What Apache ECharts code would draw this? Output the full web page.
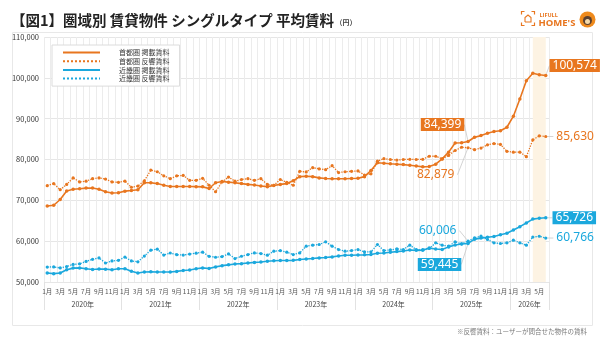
<!DOCTYPE html>
<html>
<head>
<meta charset="utf-8">
<script src="https://cdn.jsdelivr.net/npm/echarts@6/dist/echarts.min.js"></script>
<style>
  html, body { margin: 0; padding: 0; background: #fff; }
  #chart { width: 600px; height: 338px; }
</style>
</head>
<body>
<div id="chart"></div>
<script>
  // 年・月
  const years = [2020, 2021, 2022, 2023, 2024, 2025, 2026];
  const lastYearMonths = 6;

  const seriesNames = ['首都圏 掲載賃料', '首都圏 反響賃料', '近畿圏 掲載賃料', '近畿圏 反響賃料'];

  // 首都圏 掲載賃料
  const tokyoListing = [
    68600, 68800, 70200, 72300, 72700, 72850, 73000, 73000, 72700, 72100, 71800, 71850,
    72250, 72400, 72600, 74300, 74300, 74100, 73700, 73400, 73400, 73400, 73400, 73350,
    73300, 72900, 74300, 74600, 74450, 74300, 74100, 73900, 73750, 73500, 73350, 73650,
    73900, 74100, 74800, 75800, 75900, 75800, 75500, 75350, 75300, 75300, 75300, 75350,
    75400, 75800, 77300, 79200, 79100, 78950, 78850, 78750, 78600, 78400, 78200, 78300,
    78850, 80150, 81800, 84050, 84100, 84399, 85450, 85850, 86450, 86850, 87050, 87900,
    90600, 94800, 99300, 101100, 100750, 100574
  ];
  // 首都圏 反響賃料
  const tokyoInquiry = [
    73600, 74100, 72600, 73900, 75500, 74500, 74700, 75300, 75500, 75200, 74500, 74400,
    74700, 73200, 73500, 74800, 77400, 77000, 76000, 75300, 76000, 76100, 74900, 74900,
    75400, 73700, 72100, 74500, 75700, 74700, 75100, 75300, 74900, 75300, 73900, 73700,
    75100, 74400, 73700, 77100, 76950, 78000, 77700, 77500, 78500, 76800, 77000, 77100,
    77200, 76200, 76500, 79600, 80200, 80000, 79850, 80000, 80050, 80000, 80050, 80800,
    80800, 80150, 81000, 82200, 83000, 82879, 82400, 82800, 83600, 83900, 83700, 82000,
    81800, 81800, 80700, 84800, 85800, 85630
  ];
  // 近畿圏 掲載賃料
  const kinkiListing = [
    52200, 52050, 52200, 53000, 53400, 53450, 53250, 53050, 53200, 53150, 53000, 53250,
    53250, 52650, 52200, 52450, 52500, 52450, 52450, 52450, 52600, 52800, 52950, 53250,
    53450, 53300, 53700, 54000, 54200, 54400, 54500, 54650, 54800, 54900, 55100, 55200,
    55250, 55250, 55300, 55500, 55650, 55750, 55900, 56000, 56150, 56350, 56550, 56550,
    56600, 56650, 56750, 57050, 57100, 57300, 57450, 57600, 57850, 57750, 57800, 58300,
    58100, 57950, 58600, 59050, 59300, 59445, 60500, 60750, 60950, 61150, 61550, 61950,
    62750, 63550, 64450, 65400, 65600, 65726
  ];
  // 近畿圏 反響賃料
  const kinkiInquiry = [
    53650, 53700, 53450, 53800, 54300, 54450, 55050, 55550, 55900, 54650, 55150, 55300,
    56100, 55150, 54950, 56350, 57800, 58050, 56600, 57100, 56700, 56600, 56850, 57050,
    57300, 56300, 56060, 56230, 56880, 55740, 56310, 56720, 57130, 56970, 56560, 57540,
    57700, 57300, 56720, 57130, 58770, 59020, 59180, 59840, 58770, 57950, 57540, 57700,
    57950, 57380, 57380, 59180, 57700, 57870, 58110, 57950, 59020, 57950, 57950, 58200,
    59590, 59020, 58770, 59840, 59340, 60006, 60820, 61230, 60410, 59590, 59430, 59590,
    60250, 59590, 59020, 61000, 61200, 60766
  ];

  // ラベルを付ける月 (2025年6月, 2026年6月)
  const labelIndexes = [65, 77];
  // 網掛け (2026年4月〜6月)
  const bandRange = [75, 77];

  const ORANGE = '#E8761F';
  const BLUE = '#1BA8DD';
  const FONT = '"Noto Sans CJK JP", "Noto Sans", sans-serif';

  const categories = [];
  const catMonth = [];
  years.forEach((y) => {
    const n = y === years[years.length - 1] ? lastYearMonths : 12;
    for (let m = 1; m <= n; m++) {
      categories.push(y + '-' + m);
      catMonth.push(m);
    }
  });

  // ラベル設定 [series][index] -> position, dx, dy, box?
  const labelCfg = {
    0: { 65: ['left', 3, -17, true], 77: ['right', -3, -10, true] },
    1: { 65: ['left', -4, 27, false], 77: ['right', 1, 0, false] },
    2: { 65: ['left', 0, 21, true], 77: ['right', 0, 0, true] },
    3: { 65: ['left', -2, -10.5, false], 77: ['right', 1, 0, false] }
  };

  function buildData(values, si, color) {
    return values.map((v, i) => {
      const c = labelCfg[si][i];
      if (!c || labelIndexes.indexOf(i) < 0) return v;
      return {
        value: v,
        label: {
          show: true,
          position: c[0],
          formatter: (p) => p.value.toLocaleString('en-US'),
          fontFamily: '"Noto Sans", sans-serif',
          fontSize: 12,
          color: c[3] ? '#fff' : color,
          backgroundColor: c[3] ? color : 'transparent',
          padding: [1, 3, 0, 3]
        },
        labelLine: { show: true, lineStyle: { color: '#c8c8c8', width: 0.8 } }
      };
    });
  }

  function layoutFor(si) {
    return (params) => {
      const c = labelCfg[si][params.dataIndex];
      if (!c) return {};
      return { dx: c[1], dy: c[2] };
    };
  }

  function lineSeries(name, values, si, color, dotted) {
    return {
      name,
      type: 'line',
      data: buildData(values, si, color),
      symbol: 'circle',
      symbolSize: dotted ? 3.2 : 3.5,
      lineStyle: { color, width: dotted ? 1.3 : 1.6, type: dotted ? 'dotted' : 'solid' },
      itemStyle: { color },
      labelLayout: layoutFor(si),
      emphasis: { disabled: true }
    };
  }

  const series = [
    lineSeries(seriesNames[0], tokyoListing, 0, ORANGE, false),
    lineSeries(seriesNames[1], tokyoInquiry, 1, ORANGE, true),
    lineSeries(seriesNames[2], kinkiListing, 2, BLUE, false),
    lineSeries(seriesNames[3], kinkiInquiry, 3, BLUE, true)
  ];
  series[0].markArea = {
    silent: true,
    itemStyle: { color: '#FDF3E3', opacity: 1 },
    data: [[{ xAxis: categories[bandRange[0]] }, { xAxis: categories[bandRange[1]] }]]
  };

  const myChart = echarts.init(document.getElementById('chart'), null, { renderer: 'canvas' });

  myChart.setOption({
    animation: false,
    textStyle: { fontFamily: FONT },
    title: {
      text: '{a|【図1】圏域別 賃貸物件 シングルタイプ 平均賃料}{b| （円）}',
      left: 6,
      top: 8,
      textStyle: {
        rich: {
          a: { fontSize: 14.5, fontWeight: 'bold', color: '#222', fontFamily: FONT },
          b: { fontSize: 7, color: '#444', fontFamily: FONT, padding: [5, 0, 0, 0] }
        }
      }
    },
    legend: {
      orient: 'vertical',
      left: 52,
      top: 45,
      padding: [4, 10, 4, 10],
      itemWidth: 37,
      itemHeight: 8,
      itemGap: 1.7,
      backgroundColor: '#fff',
      borderColor: '#dcdcdc',
      borderWidth: 1,
      itemStyle: { opacity: 0 },
      textStyle: { fontSize: 7, color: '#333', padding: [0, 0, 0, 14] },
      data: seriesNames
    },
    grid: { left: 44, right: 51, top: 37, bottom: 56 },
    xAxis: [
      {
        type: 'category',
        data: categories,
        boundaryGap: true,
        axisLine: { show: false },
        axisTick: { show: false },
        axisLabel: {
          interval: 1,
          fontSize: 6.5,
          color: '#555',
          margin: 6,
          formatter: (v, i) => catMonth[i] + '月'
        },
        splitLine: { show: true, interval: 0, lineStyle: { color: '#ececec', width: 1 } }
      },
      {
        type: 'category',
        data: categories,
        position: 'bottom',
        offset: 0,
        boundaryGap: true,
        axisLine: { show: false },
        axisTick: {
          show: true,
          length: 28,
          interval: (i) => catMonth[i] === 1,
          lineStyle: { color: '#e2e2e2' }
        },
        axisLabel: {
          interval: (i) => {
            const y = categories[i].split('-')[0];
            return (+y === years[years.length - 1] ? catMonth[i] === 4 : catMonth[i] === 7);
          },
          formatter: (v) => v.split('-')[0] + '年',
          fontSize: 7,
          color: '#444',
          margin: 19,
          padding: [0, 6.5, 0, 0]
        },
        splitLine: { show: false }
      }
    ],
    yAxis: {
      type: 'value',
      min: 50000,
      max: 110000,
      interval: 10000,
      axisLine: { show: false },
      axisTick: { show: false },
      axisLabel: {
        fontSize: 7.5,
        color: '#333',
        margin: 5,
        formatter: (v) => v.toLocaleString('en-US')
      },
      splitLine: { lineStyle: { color: '#e6e6e6' } }
    },
    graphic: [
      {
        type: 'rect',
        left: 10,
        top: 30,
        z: -10,
        shape: { width: 580, height: 293 },
        style: { fill: 'none', stroke: '#e8e8e8', lineWidth: 1 }
      },
      // ロゴ
      {
        type: 'group',
        left: 519,
        top: 9,
        children: [
          { type: 'polyline', shape: { points: [[0, 3], [0, 0], [3, 0]] }, style: { stroke: ORANGE, lineWidth: 1.2, fill: 'none' } },
          { type: 'polyline', shape: { points: [[10, 0], [13, 0], [13, 3]] }, style: { stroke: ORANGE, lineWidth: 1.2, fill: 'none' } },
          { type: 'polyline', shape: { points: [[0, 11], [0, 14], [3, 14]] }, style: { stroke: ORANGE, lineWidth: 1.2, fill: 'none' } },
          { type: 'polyline', shape: { points: [[10, 14], [13, 14], [13, 11]] }, style: { stroke: ORANGE, lineWidth: 1.2, fill: 'none' } },
          { type: 'polyline', shape: { points: [[3.5, 10.5], [3.5, 6], [6.5, 3.5], [9.5, 6], [9.5, 10.5], [3.5, 10.5]] }, style: { stroke: ORANGE, lineWidth: 1.1, fill: 'none' } },
          { type: 'text', x: 18, y: 1, style: { text: 'LIFULL', fill: ORANGE, fontSize: 5.5, fontWeight: 'bold', fontFamily: '"Open Sans", sans-serif' } },
          { type: 'text', x: 17, y: 6.5, style: { text: "HOME'S", fill: ORANGE, fontSize: 9.5, fontWeight: 'bold', fontFamily: '"Open Sans", sans-serif' } },
          { type: 'circle', shape: { cx: 66, cy: 8, r: 8 }, style: { fill: '#EE8A1C' } },
          { type: 'circle', shape: { cx: 66, cy: 9, r: 4.5 }, style: { fill: '#5a4030' } },
          { type: 'circle', shape: { cx: 66, cy: 10, r: 2.5 }, style: { fill: '#f5d9a8' } }
        ]
      },
      {
        type: 'text',
        right: 13,
        top: 328,
        style: { text: '※反響賃料：ユーザーが問合せた物件の賃料', fill: '#777', fontSize: 6.5, fontFamily: FONT }
      }
    ],
    series
  });
</script>
</body>
</html>
